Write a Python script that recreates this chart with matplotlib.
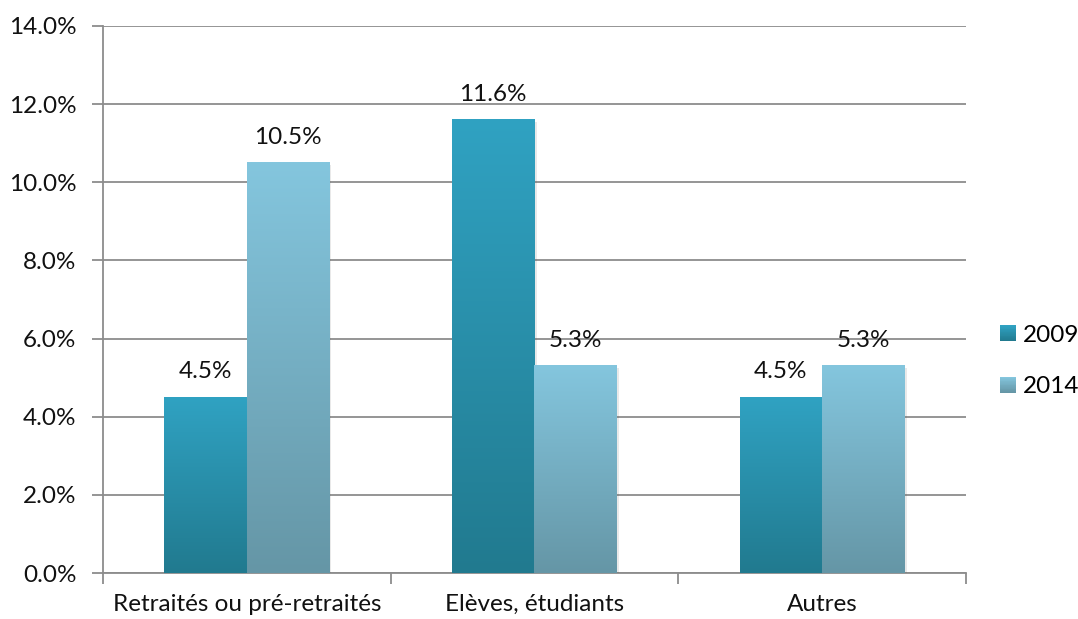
import numpy as np
import matplotlib
matplotlib.use("Agg")
import matplotlib.pyplot as plt
from matplotlib.patches import Rectangle
from matplotlib.legend_handler import HandlerBase
from matplotlib.colors import LinearSegmentedColormap
import matplotlib.patheffects as pe

plt.rcParams['font.family'] = ['Lato', 'DejaVu Sans']

categories = ["Retraités ou pré-retraités", "Elèves, étudiants", "Autres"]
series_names = ["2009", "2014"]
values_2009 = [4.5, 11.6, 4.5]
values_2014 = [10.5, 5.3, 5.3]
y_ticks = [0, 2, 4, 6, 8, 10, 12, 14]

# gradient (top colour, bottom colour) for each series
gradients = {
    "2009": ("#30a2c2", "#217a8f"),
    "2014": ("#84c6de", "#6596a6"),
}

FS = 17.5
fig = plt.figure(figsize=(10.78, 6.19), dpi=100)
ax = fig.add_axes([0.0955, 0.0743, 0.8005, 0.8837])

n = len(categories)
x = np.arange(n)
width = 0.287
grid_color = "#8c8c8c"

for vals, name, off in [(values_2009, "2009", -width / 2), (values_2014, "2014", width / 2)]:
    top, bottom = gradients[name]
    cmap = LinearSegmentedColormap.from_list(name, [bottom, top])
    bars = ax.bar(x + off, vals, width=width, color="none", edgecolor="none", zorder=3)
    for bar, v in zip(bars, vals):
        x0 = bar.get_x()
        # soft drop shadow under each bar
        sh = Rectangle((x0, 0), width, v, facecolor="white", edgecolor="none", zorder=2.9,
                       path_effects=[pe.SimplePatchShadow(offset=(1.5, -1.5), alpha=0.12)])
        ax.add_patch(sh)
        grad = np.linspace(0, 1, 256).reshape(-1, 1)
        ax.imshow(grad, cmap=cmap, origin="lower", aspect="auto",
                  extent=(x0, x0 + width, 0, v), zorder=3.1, interpolation="bilinear")
        ax.text(x0 + width / 2, v + 0.38, f"{v:.1f}%", ha="center", va="bottom",
                fontsize=FS, color="#111111", zorder=5)

ax.set_xlim(-0.5, n - 0.5)
ax.set_ylim(0, 14)

ax.set_yticks(y_ticks)
ax.set_yticklabels([f"{t:.1f}%" for t in y_ticks], fontsize=FS, color="#111111")
ax.yaxis.grid(True, color=grid_color, linewidth=1.3, zorder=0)
ax.set_axisbelow(True)

ax.set_xticks([-0.5, 0.5, 1.5, 2.5])
ax.set_xticklabels([])
ax.set_xticks(x, minor=True)
ax.set_xticklabels(categories, minor=True, fontsize=FS, color="#111111")
ax.tick_params(axis="x", which="minor", length=0, pad=15)
ax.tick_params(axis="x", which="major", length=8, color=grid_color, width=1.3)
ax.tick_params(axis="y", length=8, color=grid_color, width=1.3, pad=11)

for s in ["top", "right"]:
    ax.spines[s].set_visible(False)
for s in ["left", "bottom"]:
    ax.spines[s].set_color(grid_color)
    ax.spines[s].set_linewidth(1.3)


class GradientHandler(HandlerBase):
    def __init__(self, top, bottom, steps=20):
        super().__init__()
        self.top, self.bottom, self.steps = top, bottom, steps

    def create_artists(self, legend, orig_handle, xdescent, ydescent, width, height, fontsize, trans):
        cmap = LinearSegmentedColormap.from_list("g", [self.bottom, self.top])
        size = min(width, height)
        x0 = -xdescent + (width - size)
        y0 = -ydescent + (height - size) / 2
        arts = []
        h = size / self.steps
        for i in range(self.steps):
            arts.append(Rectangle((x0, y0 + i * h), size, h * 1.05, facecolor=cmap(i / (self.steps - 1)),
                                  edgecolor="none", transform=trans))
        return arts


handles = [Rectangle((0, 0), 1, 1) for _ in series_names]
leg = fig.legend(handles, series_names, loc="center left", bbox_to_anchor=(1000 / 1078, 1 - 361 / 619),
                 frameon=False, fontsize=FS, labelspacing=1.25, handlelength=0.65, handleheight=0.65,
                 handletextpad=0.3, borderpad=0, borderaxespad=0,
                 handler_map={handles[i]: GradientHandler(*gradients[series_names[i]]) for i in range(2)})

fig.savefig("out.png", dpi=100)
